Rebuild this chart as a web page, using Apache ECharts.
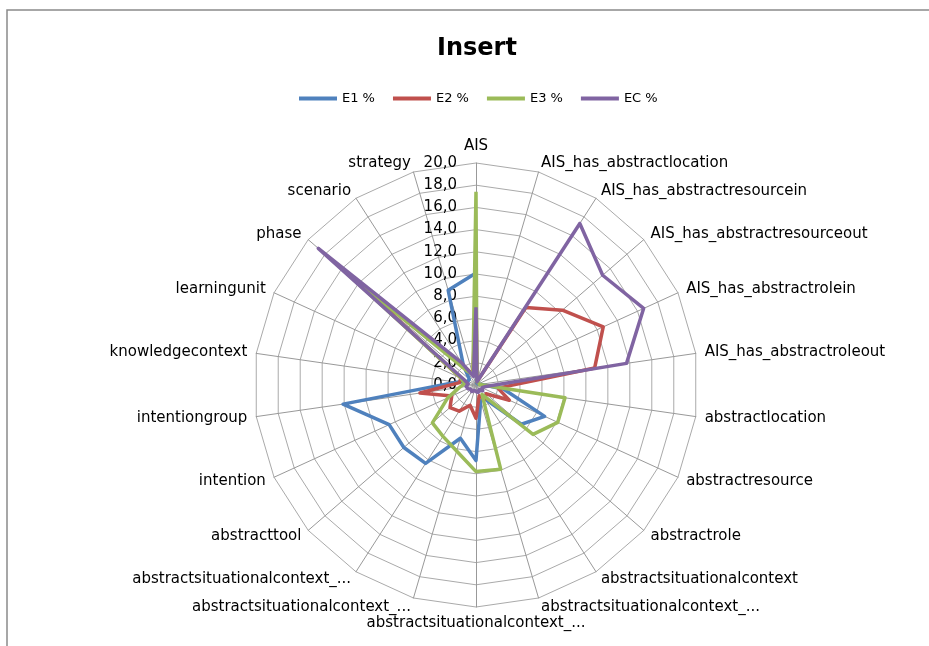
<!DOCTYPE html>
<html>
<head>
<meta charset="utf-8">
<script src="https://cdn.jsdelivr.net/npm/echarts@6/dist/echarts.min.js"></script>
<style>html,body{margin:0;padding:0;background:#fff;}#c{width:929px;height:646px;}</style>
</head>
<body>
<div id="c"></div>
<script>
const categories = ['AIS','AIS_has_abstractlocation','AIS_has_abstractresourcein','AIS_has_abstractresourceout','AIS_has_abstractrolein','AIS_has_abstractroleout','abstractlocation','abstractresource','abstractrole','abstractsituationalcontext','abstractsituationalcontext_...','abstractsituationalcontext_...','abstractsituationalcontext_...','abstractsituationalcontext_...','abstracttool','intention','intentiongroup','knowledgecontext','learningunit','phase','scenario','strategy'];
const seriesNames = ['E1 %','E2 %','E3 %','EC %'];
const e1 = [10.1, 0.2, 0.2, 0.2, 0.2, 0.4, 2.5, 6.8, 5.4, 1.5, 1.5, 6.8, 5.0, 8.4, 8.6, 8.6, 12.1, 1.8, 0.8, 0.8, 2.1, 8.9];
const e2 = [8.5, 0.3, 8.3, 10.3, 12.6, 10.8, 2.0, 3.3, 1.2, 1.5, 1.0, 3.0, 1.9, 2.8, 3.1, 2.4, 5.1, 1.5, 1.5, 14.0, 2.0, 1.0];
const e3 = [17.4, 0.3, 0.3, 0.3, 0.3, 0.3, 8.1, 8.1, 6.8, 1.0, 7.9, 7.8, 6.2, 5.5, 5.2, 2.8, 1.5, 1.0, 1.5, 16.0, 1.5, 1.0];
const ec = [7.0, 0.3, 17.3, 15.1, 16.6, 13.7, 0.9, 0.6, 0.8, 0.5, 0.7, 0.6, 0.5, 0.7, 0.6, 0.8, 0.9, 0.7, 1.2, 18.8, 2.4, 0.8];
const tickValues = [0, 2, 4, 6, 8, 10, 12, 14, 16, 18, 20];
const colors = ['#4F81BD', '#C0504D', '#9BBB59', '#8064A2'];

// ECharts radar places indicators counter-clockwise; reorder so categories run clockwise
const order = [0];
for (let i = categories.length - 1; i >= 1; i--) order.push(i);
const reorder = arr => order.map(i => arr[i]);

const allSeries = [e1, e2, e3, ec];
const chart = echarts.init(document.getElementById('c'), null, {renderer: 'canvas'});
const font = 'DejaVu Sans';
chart.setOption({
  backgroundColor: '#fff',
  animation: false,
  color: colors,
  title: {
    text: 'Insert', left: 437, top: 37, padding: 0,
    textStyle: {fontFamily: font, fontWeight: 'bold', fontSize: 24, color: '#000'}
  },
  legend: {
    data: seriesNames, left: 299, top: 92, padding: 0,
    icon: 'rect', itemWidth: 38, itemHeight: 4, itemGap: 18,
    textStyle: {fontFamily: font, fontSize: 13, color: '#000'}
  },
  graphic: [{
    type: 'rect', shape: {x: 7, y: 10, width: 1000, height: 1000},
    style: {fill: 'none', stroke: '#8a8a8a', lineWidth: 1.5}, silent: true
  }],
  grid: {left: 476, top: 163, height: 222, width: 1},
  xAxis: {type: 'value', show: false},
  yAxis: {
    type: 'value', min: tickValues[0], max: tickValues[tickValues.length - 1], interval: 2,
    axisLine: {show: false}, axisTick: {show: false}, splitLine: {show: false},
    axisLabel: {margin: 19, fontFamily: font, fontSize: 15, color: '#000',
      formatter: v => v.toFixed(1).replace('.', ',')}
  },
  radar: {
    center: [476, 385], radius: 222, startAngle: 90, splitNumber: 10, shape: 'polygon',
    indicator: order.map(i => ({name: categories[i], min: 0, max: 20})),
    nameGap: 9,
    axisName: {color: '#000', fontFamily: font, fontSize: 15},
    axisLine: {lineStyle: {color: '#999', width: 1}},
    splitLine: {lineStyle: {color: '#aaa', width: 1}},
    splitArea: {show: false},
    axisTick: {show: false},
    axisLabel: {show: false}
  },
  series: [{
    type: 'radar',
    symbol: 'none',
    lineStyle: {width: 3.5},
    data: allSeries.map((arr, k) => ({
      name: seriesNames[k], value: reorder(arr),
      lineStyle: {color: colors[k], width: 3.5}, itemStyle: {color: colors[k]}
    }))
  }]
});
</script>
</body>
</html>
